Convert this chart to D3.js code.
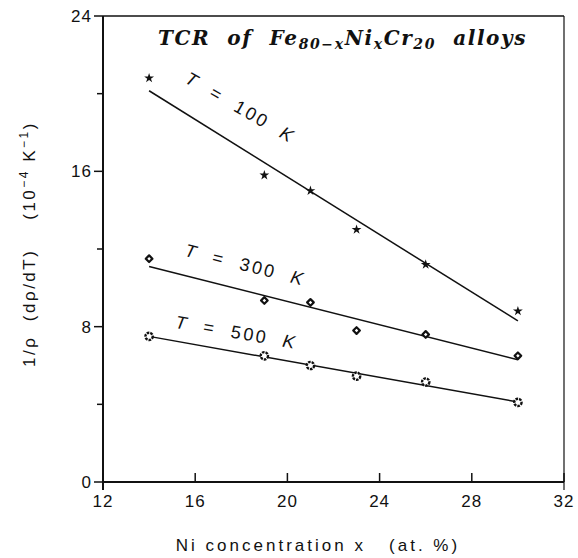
<!DOCTYPE html>
<html>
<head>
    <title>TCR of FeNiCr alloys</title>
    <script src="https://d3js.org/d3.v7.min.js"></script>
    <style>
        body { margin: 0; background: #fff; }
        .tick-label { font-family: "Liberation Sans", sans-serif; font-size: 17px; fill: #111; }
        .axis-title { font-family: "Liberation Sans", sans-serif; font-size: 17px; fill: #111; }
        .curve-label { font-family: "Liberation Sans", sans-serif; font-size: 18px; fill: #111; }
        .title { font-family: "DejaVu Serif", serif; font-weight: bold; font-style: italic; font-size: 20px; fill: #111; }
    </style>
</head>
<body>
    <svg width="578" height="558"></svg>

    <script>
        // Ni concentration (at. %)
        const conc = [14, 19, 21, 23, 26, 30];

        // measured 1/rho drho/dT (1e-4 K^-1)
        const tcr100 = [20.8, 15.8, 15.0, 13.0, 11.2, 8.8];
        const tcr300 = [11.5, 9.35, 9.25, 7.8, 7.6, 6.5];
        const tcr500 = [7.5, 6.5, 6.0, 5.45, 5.15, 4.1];

        // fitted straight lines: [x0, y0, x1, y1]
        const fit100 = [14, 20.15, 30, 8.3];
        const fit300 = [14, 11.1, 30, 6.3];
        const fit500 = [14, 7.5, 30, 4.12];

        const xTicks = [12, 16, 20, 24, 28, 32];
        const yTicks = [0, 8, 16, 24];
        const yMinor = [4, 12, 20];

        const svg = d3.select("svg");
        const mL = 103, mR = 564, mT = 16, mB = 482;

        const x = d3.scaleLinear().domain([12, 32]).range([mL, mR]);
        const y = d3.scaleLinear().domain([0, 24]).range([mB, mT]);

        // frame
        const frame = svg.append("g").attr("stroke", "#111").attr("fill", "none");
        frame.append("line").attr("x1", mL).attr("x2", mL).attr("y1", mT).attr("y2", mB + 8).attr("stroke-width", 2);
        frame.append("line").attr("x1", mL).attr("x2", mR).attr("y1", mB).attr("y2", mB).attr("stroke-width", 2);
        frame.append("line").attr("x1", mL).attr("x2", mR).attr("y1", mT).attr("y2", mT).attr("stroke-width", 1.5);
        frame.append("line").attr("x1", mR).attr("x2", mR).attr("y1", mT).attr("y2", mB + 8).attr("stroke-width", 1.2);

        // left axis ticks
        frame.selectAll(".ymaj").data(yTicks).enter().append("line")
            .attr("x1", mL - 9).attr("x2", mL)
            .attr("y1", d => y(d)).attr("y2", d => y(d)).attr("stroke-width", 1.5);
        frame.selectAll(".ymin").data(yMinor).enter().append("line")
            .attr("x1", mL - 6).attr("x2", mL)
            .attr("y1", d => y(d)).attr("y2", d => y(d)).attr("stroke-width", 1.5);
        svg.selectAll(".ylab").data(yTicks).enter().append("text")
            .attr("class", "tick-label")
            .attr("x", mL - 11).attr("y", d => y(d) + 6)
            .attr("text-anchor", "end")
            .style("letter-spacing", "1px")
            .text(d => d);

        // bottom axis ticks (inward)
        frame.selectAll(".xmaj").data(xTicks).enter().append("line")
            .attr("x1", d => x(d)).attr("x2", d => x(d))
            .attr("y1", mB - 9).attr("y2", mB).attr("stroke-width", 1.5);
        svg.selectAll(".xlab").data(xTicks).enter().append("text")
            .attr("class", "tick-label")
            .attr("x", d => x(d)).attr("y", mB + 25)
            .attr("text-anchor", "middle")
            .style("letter-spacing", "1px")
            .text(d => d);

        // axis titles
        svg.append("text")
            .attr("class", "axis-title")
            .attr("x", 318).attr("y", 551)
            .attr("text-anchor", "middle")
            .attr("xml:space", "preserve")
            .style("letter-spacing", "3px")
            .text("Ni concentration x   (at. %)");

        const yt = svg.append("text")
            .attr("class", "axis-title")
            .attr("transform", "translate(35,244) rotate(-90)")
            .attr("text-anchor", "middle")
            .attr("xml:space", "preserve")
            .style("letter-spacing", "2.5px");
        yt.append("tspan").text("1/\u03C1  (d\u03C1/dT)    (10");
        yt.append("tspan").attr("dy", -7).style("font-size", "12px").text("\u22124");
        yt.append("tspan").attr("dy", 7).text(" K");
        yt.append("tspan").attr("dy", -7).style("font-size", "12px").text("\u22121");
        yt.append("tspan").attr("dy", 7).text(")");

        // title
        const tt = svg.append("text").attr("class", "title")
            .attr("x", 158).attr("y", 45)
            .attr("xml:space", "preserve")
            .style("letter-spacing", "1.6px");
        tt.append("tspan").text("TCR  of  Fe");
        tt.append("tspan").attr("dy", 4).style("font-size", "14px").text("80\u2212x");
        tt.append("tspan").attr("dy", -4).text("Ni");
        tt.append("tspan").attr("dy", 4).style("font-size", "14px").text("x");
        tt.append("tspan").attr("dy", -4).text("Cr");
        tt.append("tspan").attr("dy", 4).style("font-size", "14px").text("20");
        tt.append("tspan").attr("dy", -4).text("  alloys");

        // fitted lines
        [fit100, fit300, fit500].forEach(f => {
            svg.append("line")
                .attr("x1", x(f[0])).attr("y1", y(f[1]))
                .attr("x2", x(f[2])).attr("y2", y(f[3]))
                .attr("stroke", "#111").attr("stroke-width", 1.5);
        });

        // markers
        const star = d3.symbol().type(d3.symbolStar).size(30);
        svg.append("g").selectAll("path").data(conc).enter().append("path")
            .attr("d", star)
            .attr("transform", (d, i) => `translate(${x(d)},${y(tcr100[i])})`)
            .attr("fill", "#111");

        const diamond = d3.symbol().type(d3.symbolSquare).size(22);
        svg.append("g").selectAll("path").data(conc).enter().append("path")
            .attr("d", diamond)
            .attr("transform", (d, i) => `translate(${x(d)},${y(tcr300[i])}) rotate(45)`)
            .attr("fill", "#fff").attr("stroke", "#111").attr("stroke-width", 2.2)
            .attr("stroke-linejoin", "round");

        const circ = d3.symbol().type(d3.symbolCircle).size(42);
        svg.append("g").selectAll("path").data(conc).enter().append("path")
            .attr("d", circ)
            .attr("transform", (d, i) => `translate(${x(d)},${y(tcr500[i])})`)
            .attr("fill", "#fff").attr("stroke", "#111").attr("stroke-width", 2.4)
            .attr("stroke-dasharray", "2.6,1");

        // curve labels
        function curveLabel(px, py, ang, temp) {
            const t = svg.append("text").attr("class", "curve-label")
                .attr("transform", `translate(${px},${py}) rotate(${ang})`)
                .attr("xml:space", "preserve")
                .style("letter-spacing", "2.5px");
            t.append("tspan").style("font-style", "italic").text("T");
            t.append("tspan").text("  =  " + temp + "  ");
            t.append("tspan").style("font-style", "italic").text("K");
        }
        curveLabel(x(15.5), y(20.6), 30, 100);
        curveLabel(x(15.5), y(11.65), 14, 300);
        curveLabel(x(15.1), y(7.95), 10, 500);
    </script>
</body>
</html>
